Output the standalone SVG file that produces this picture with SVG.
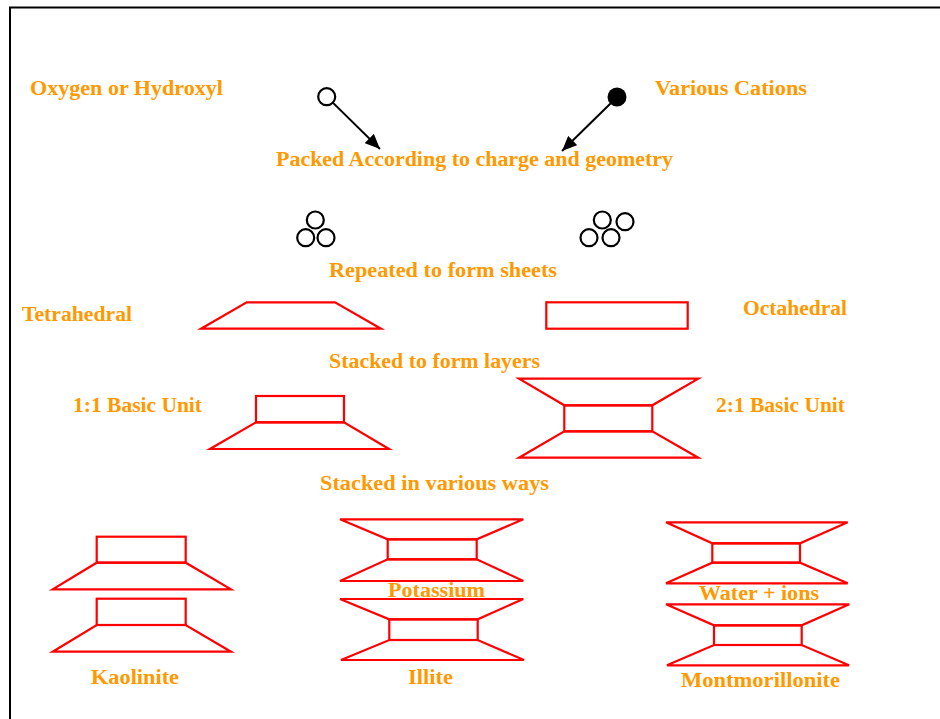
<svg xmlns="http://www.w3.org/2000/svg" width="940" height="719" viewBox="0 0 940 719">
<defs>
<style>
.t{font-family:"Liberation Serif","DejaVu Serif",serif;font-weight:bold;font-size:20.5px;fill:#FF9900}
.s{fill:none;stroke:#FF0000;stroke-width:2.2;stroke-linejoin:miter}
.c{fill:#fff;stroke:#000;stroke-width:2.2}
.a{stroke:#000;stroke-width:2;fill:none}
</style>
<marker id="ah" markerWidth="15" markerHeight="13" viewBox="0 0 15 13" refX="15" refY="6.5" orient="auto" markerUnits="userSpaceOnUse">
<path d="M0,0 L15,6.5 L0,13 Z" fill="#000"/>
</marker>
</defs>
<rect width="940" height="719" fill="#fff"/>
<path d="M10,719 V7.5 H940" fill="none" stroke="#000" stroke-width="2"/>

<g id="oxygen">
<circle class="c" cx="326.7" cy="96.7" r="8.5"/>
<text class="t" x="30" y="95" textLength="193" lengthAdjust="spacingAndGlyphs">Oxygen or Hydroxyl</text>
</g>
<g id="cations">
<circle cx="617" cy="97" r="9.5" fill="#000"/>
<text class="t" x="655" y="95" textLength="152" lengthAdjust="spacingAndGlyphs">Various Cations</text>
</g>
<g id="connectors">
<line class="a" x1="332.8" y1="102.6" x2="380" y2="149" marker-end="url(#ah)"/>
<line class="a" x1="610.5" y1="103.5" x2="562" y2="151" marker-end="url(#ah)"/>
</g>
<g id="packed">
<text class="t" x="276" y="166" textLength="397" lengthAdjust="spacingAndGlyphs">Packed According to charge and geometry</text>
</g>
<g id="tetra-packing">
<circle class="c" cx="315.3" cy="220" r="8.5"/>
<circle class="c" cx="305.7" cy="237.7" r="8.5"/>
<circle class="c" cx="326" cy="237.7" r="8.5"/>
</g>
<g id="octa-packing">
<circle class="c" cx="602.3" cy="220" r="8.5"/>
<circle class="c" cx="625" cy="221.7" r="8.5"/>
<circle class="c" cx="589" cy="237.7" r="8.5"/>
<circle class="c" cx="611" cy="237.7" r="8.5"/>
</g>
<g id="repeated">
<text class="t" x="329" y="277" textLength="228" lengthAdjust="spacingAndGlyphs">Repeated to form sheets</text>
</g>
<g id="tetrahedral">
<text class="t" x="22" y="321" textLength="110" lengthAdjust="spacingAndGlyphs">Tetrahedral</text>
<path class="s" d="M246.7,302.3 H335 L381,328.7 H201 Z"/>
</g>
<g id="octahedral">
<rect class="s" x="546.3" y="302.3" width="141.4" height="26.4"/>
<text class="t" x="743" y="315" textLength="104" lengthAdjust="spacingAndGlyphs">Octahedral</text>
</g>
<g id="stacked-layers">
<text class="t" x="329" y="368" textLength="211" lengthAdjust="spacingAndGlyphs">Stacked to form layers</text>
</g>
<g id="unit-1-1">
<text class="t" x="73" y="412" textLength="129" lengthAdjust="spacingAndGlyphs">1:1 Basic Unit</text>
<rect class="s" x="256" y="396" width="88" height="26.3"/>
<path class="s" d="M256,422.3 H344 L389,449 H210 Z"/>
</g>
<g id="unit-2-1">
<path class="s" d="M519,378.7 H698.3 L652.3,405.3 H564.3 Z"/>
<rect class="s" x="564.3" y="405.3" width="88" height="26"/>
<path class="s" d="M564.3,431.3 H652.3 L698.3,457.7 H519 Z"/>
<text class="t" x="716" y="412" textLength="129" lengthAdjust="spacingAndGlyphs">2:1 Basic Unit</text>
</g>
<g id="stacked-various">
<text class="t" x="320" y="490" textLength="229" lengthAdjust="spacingAndGlyphs">Stacked in various ways</text>
</g>
<g id="kaolinite">
<rect class="s" x="96.7" y="536.7" width="89" height="26"/>
<path class="s" d="M96.7,562.7 H185.7 L231,589.3 H52.7 Z"/>
<rect class="s" x="96.7" y="598.7" width="89" height="26.3"/>
<path class="s" d="M96.7,625 H185.7 L231,651.7 H52.7 Z"/>
<text class="t" x="91" y="684" textLength="88" lengthAdjust="spacingAndGlyphs">Kaolinite</text>
</g>
<g id="illite">
<path class="s" d="M340,519.3 H523.3 L476.7,539.3 H387.7 Z"/>
<rect class="s" x="387.7" y="539.3" width="89" height="20"/>
<path class="s" d="M387.7,559.3 H476.7 L523.3,581 H340 Z"/>
<path class="s" d="M340,599 H523.3 L477.7,619.3 H389.3 Z"/>
<rect class="s" x="389.3" y="619.3" width="88.4" height="20.7"/>
<path class="s" d="M389.3,640 H477.7 L524,660 H341 Z"/>
<text class="t" x="388" y="597" textLength="97" lengthAdjust="spacingAndGlyphs">Potassium</text>
<text class="t" x="408" y="684" textLength="45" lengthAdjust="spacingAndGlyphs">Illite</text>
</g>
<g id="montmorillonite">
<path class="s" d="M666,522.3 H847.7 L800,543.3 H712.3 Z"/>
<rect class="s" x="712.3" y="543.3" width="87.7" height="19.4"/>
<path class="s" d="M712.3,562.7 H800 L847.7,583.3 H666 Z"/>
<path class="s" d="M666,604.3 H849.3 L801.7,625.3 H714 Z"/>
<rect class="s" x="714" y="625.3" width="87.7" height="19.7"/>
<path class="s" d="M714,645 H801.7 L849,665.3 H667 Z"/>
<text class="t" x="699" y="600" textLength="120" lengthAdjust="spacingAndGlyphs">Water + ions</text>
<text class="t" x="681" y="687" textLength="159" lengthAdjust="spacingAndGlyphs">Montmorillonite</text>
</g>
</svg>
